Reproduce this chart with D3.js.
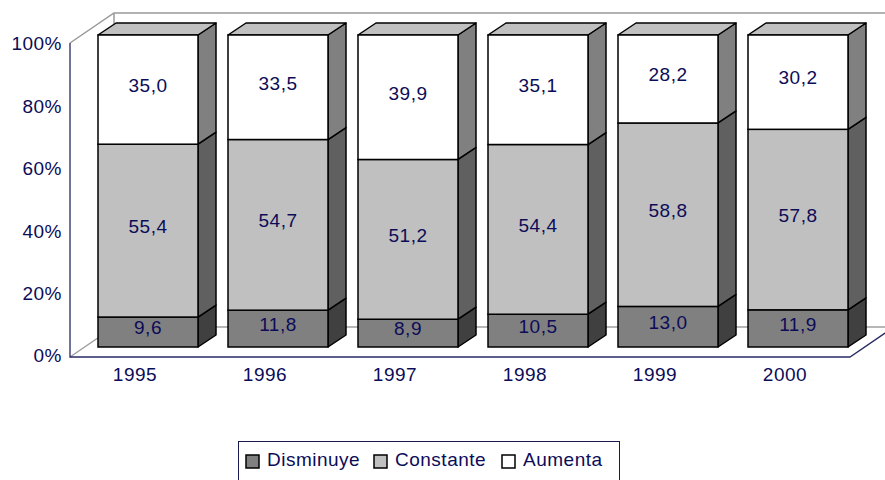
<!DOCTYPE html>
<html>
<head>
<meta charset="utf-8">
<script src="https://d3js.org/d3.v7.min.js"></script>
<style>
  body { margin: 0; background: #fff; }
  svg text { font-family: "Liberation Sans", Arial, sans-serif; font-size: 19px; letter-spacing: 0.5px; fill: #0c0c58; }
</style>
</head>
<body>
<div id="chart"></div>
<script>
// Data
const years = ["1995", "1996", "1997", "1998", "1999", "2000"];
const disminuye = [9.6, 11.8, 8.9, 10.5, 13.0, 11.9];
const constante = [55.4, 54.7, 51.2, 54.4, 58.8, 57.8];
const aumenta = [35.0, 33.5, 39.9, 35.1, 28.2, 30.2];
const seriesNames = ["Disminuye", "Constante", "Aumenta"];
const yTicks = [0, 20, 40, 60, 80, 100];

// Colours: front face, side face, top face
const colors = {
    Disminuye: { front: "#808080", side: "#404040", top: "#606060" },
    Constante: { front: "#c0c0c0", side: "#606060", top: "#909090" },
    Aumenta: { front: "#ffffff", side: "#808080", top: "#c0c0c0" }
};

const width = 885, height = 480;
const plot = { left: 70, right: 850, top: 45, bottom: 357 };
const wallDepth = { dx: 44, dy: -30 };   // depth of the 3D box
const barShift = { dx: 13, dy: -10 };    // bar front face offset from front plane
const barDepth = { dx: 18, dy: -12 };    // bar thickness

const svg = d3.select("#chart").append("svg")
    .attr("width", width)
    .attr("height", height);

const x = d3.scaleBand().domain(years).range([plot.left, plot.right]).padding(0);
const y = d3.scaleLinear().domain([0, 100]).range([plot.bottom, plot.top]);
const barW = x.bandwidth() * 100 / 130;

// Walls and floor
const grid = svg.append("g").attr("fill", "none");
const bx = plot.left + wallDepth.dx, byTop = plot.top - 2 + wallDepth.dy, byBot = plot.bottom + wallDepth.dy;
grid.append("path")
    .attr("d", `M${plot.left},${plot.top - 2}L${bx},${byTop}L${width + 10},${byTop}`)
    .attr("stroke", "#999").attr("stroke-width", 1.5);
grid.append("path")
    .attr("d", `M${bx},${byTop}L${bx},${byBot}`)
    .attr("stroke", "#999").attr("stroke-width", 1.5);
grid.append("path")
    .attr("d", `M${plot.left},${plot.bottom}L${bx},${byBot}L${width + 10},${byBot}`)
    .attr("stroke", "#a0a0a0").attr("stroke-width", 1.5);
// front axis lines
grid.append("path")
    .attr("d", `M${plot.left},${plot.top - 2}L${plot.left},${plot.bottom}L${plot.right},${plot.bottom}L${plot.right + wallDepth.dx},${plot.bottom + wallDepth.dy}`)
    .attr("stroke", "#2a2a66").attr("stroke-width", 1.3);

// Y axis labels
svg.append("g").selectAll("text")
    .data(yTicks)
    .enter().append("text")
    .attr("x", 62)
    .attr("y", d => y(d) + 5.3)
    .attr("text-anchor", "end")
    .text(d => d + "%");

// X labels
svg.append("g").selectAll("text")
    .data(years)
    .enter().append("text")
    .attr("x", d => x(d) + x.bandwidth() / 2)
    .attr("y", 380.5)
    .attr("text-anchor", "middle")
    .text(d => d);

// Stack the data
const rows = years.map((yr, i) => ({ year: yr, Disminuye: disminuye[i], Constante: constante[i], Aumenta: aumenta[i] }));
const stack = d3.stack().keys(seriesNames).offset(d3.stackOffsetExpand);
const layers = stack(rows);

const fmt = v => v.toFixed(1).replace(".", ",");

const bars = svg.append("g");
years.forEach((yr, i) => {
    const g = bars.append("g");
    const x0 = x(yr) + (x.bandwidth() - barW) / 2 + barShift.dx;
    const x1 = x0 + barW;
    layers.forEach((layer, li) => {
        const key = layer.key;
        const seg = layer[i];
        const yb = y(seg[0] * 100) + barShift.dy;
        const yt = y(seg[1] * 100) + barShift.dy;
        const c = colors[key];
        // side face
        g.append("path")
            .attr("d", `M${x1},${yb}L${x1 + barDepth.dx},${yb + barDepth.dy}L${x1 + barDepth.dx},${yt + barDepth.dy}L${x1},${yt}Z`)
            .attr("fill", c.side).attr("stroke", "#000").attr("stroke-width", 1.5).attr("stroke-linejoin", "round");
        // top face (only last segment visible)
        if (li === layers.length - 1) {
            g.append("path")
                .attr("d", `M${x0},${yt}L${x0 + barDepth.dx},${yt + barDepth.dy}L${x1 + barDepth.dx},${yt + barDepth.dy}L${x1},${yt}Z`)
                .attr("fill", c.top).attr("stroke", "#000").attr("stroke-width", 1.5).attr("stroke-linejoin", "round");
        }
        // front face
        g.append("rect")
            .attr("x", x0).attr("y", yt)
            .attr("width", barW).attr("height", yb - yt)
            .attr("fill", c.front).attr("stroke", "#000").attr("stroke-width", 1.5);
        // value label
        g.append("text")
            .attr("x", (x0 + x1) / 2)
            .attr("y", (yb + yt) / 2 + 2.3)
            .attr("text-anchor", "middle")
            .text(fmt(rows[i][key]));
    });
});

// Legend: equal-width items
const legend = svg.append("g");
legend.append("rect")
    .attr("x", 238.5).attr("y", 441.5)
    .attr("width", 381).attr("height", 60)
    .attr("fill", "#fff").attr("stroke", "#1a1a50").attr("stroke-width", 1);
seriesNames.forEach((name, i) => {
    const lx = 246 + i * 128;
    legend.append("rect")
        .attr("x", lx).attr("y", 455)
        .attr("width", 13).attr("height", 13)
        .attr("fill", colors[name].front)
        .attr("stroke", "#000").attr("stroke-width", 1.5);
    legend.append("text")
        .attr("x", lx + 21)
        .attr("y", 466)
        .text(name);
});
</script>
</body>
</html>
